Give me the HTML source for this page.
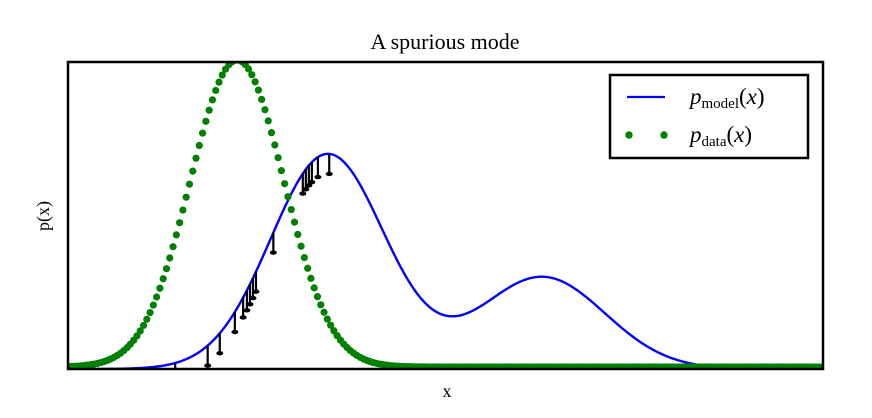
<!DOCTYPE html>
<html><head><meta charset="utf-8">
<style>
html,body{margin:0;padding:0;background:#fff;}
svg{display:block;}
text{font-family:"Liberation Serif",serif;}
</style></head>
<body>
<svg id="chartsvg" width="872" height="418" viewBox="0 0 872 418" xmlns="http://www.w3.org/2000/svg">
  <defs><clipPath id="plotclip"><rect x="68" y="62" width="755" height="307"/></clipPath></defs>
  <text x="445" y="49" font-size="22" text-anchor="middle">A spurious mode</text>
  <text x="447" y="397" font-size="18" text-anchor="middle">x</text>
  <text x="49" y="216" font-size="18" text-anchor="middle" transform="rotate(-90 49 216)">p(x)</text>
  <g id="plotgroup" clip-path="url(#plotclip)"></g>
  <rect x="68" y="62" width="755" height="307" fill="none" stroke="#000" stroke-width="2.5"/>
  <g>
    <rect x="610" y="75" width="198" height="83" fill="#fff" stroke="#000" stroke-width="2.5"/>
    <g>
      <line x1="627" y1="97" x2="665" y2="97" stroke="#0000ff" stroke-width="2.2"/>
      <text x="690" y="104" font-size="23" font-style="italic">p<tspan font-style="normal" font-size="15" dy="4">model</tspan><tspan font-style="normal" dy="-4">(</tspan>x<tspan font-style="normal">)</tspan></text>
    </g>
    <g>
      <circle cx="629" cy="135" r="3.7" fill="#008000"/>
      <circle cx="664" cy="135" r="3.7" fill="#008000"/>
      <text x="690" y="142" font-size="23" font-style="italic">p<tspan font-style="normal" font-size="15" dy="4">data</tspan><tspan font-style="normal" dy="-4">(</tspan>x<tspan font-style="normal">)</tspan></text>
    </g>
  </g>
</svg>
<script>
var dataMeans = [2.24];
var dataStds = [0.62];
var dataAmps = [1.0];
var modelMeans = [3.44, 6.28];
var modelStds = [0.755, 0.83];
var modelAmps = [0.70, 0.30];
var sampleXs = [1.42, 1.85, 2.01, 2.21, 2.32, 2.37, 2.41, 2.45, 2.49, 2.72, 3.11, 3.15, 3.19, 3.23, 3.31, 3.46];
var xDomain = [0, 10];
var yDomain = [0, 1];

(function(){
  var NS = "http://www.w3.org/2000/svg";
  var X0 = 68, X1 = 823, Y0 = 369, Y1 = 62;
  function sx(v){ return X0 + (v - xDomain[0]) / (xDomain[1] - xDomain[0]) * (X1 - X0); }
  function sy(v){ return Y0 - (v - yDomain[0]) / (yDomain[1] - yDomain[0]) * (Y0 - Y1); }
  function mix(x, m, s, a){ var t = 0; for (var i = 0; i < m.length; i++) { t += a[i] * Math.exp(-((x - m[i]) * (x - m[i])) / (2 * s[i] * s[i])); } return t; }
  var grp = document.getElementById('plotgroup');

  var pd = '';
  for (var i = 0; i <= 500; i++) {
    var x = xDomain[0] + (xDomain[1] - xDomain[0]) * i / 500;
    pd += (i ? 'L' : 'M') + sx(x).toFixed(2) + ' ' + sy(mix(x, modelMeans, modelStds, modelAmps)).toFixed(2);
  }
  var pth = document.createElementNS(NS, 'path');
  pth.setAttribute('d', pd);
  pth.setAttribute('fill', 'none');
  pth.setAttribute('stroke', '#0000ff');
  pth.setAttribute('stroke-width', '2.4');
  
  
  grp.appendChild(pth);

  var nDots = 230;
  for (var j = 0; j <= nDots; j++) {
    var xx = xDomain[0] + (xDomain[1] - xDomain[0]) * j / nDots;
    var c = document.createElementNS(NS, 'circle');
    c.setAttribute('cx', sx(xx).toFixed(2));
    c.setAttribute('cy', (sy(mix(xx, dataMeans, dataStds, dataAmps)) - 2).toFixed(2));
    c.setAttribute('r', '3.6');
    c.setAttribute('fill', '#008000');
    
    
    grp.appendChild(c);
  }

  for (var k = 0; k < sampleXs.length; k++) {
    var sxv = sampleXs[k];
    var px = sx(sxv);
    var y1 = sy(mix(sxv, modelMeans, modelStds, modelAmps));
    var y2 = Math.min(y1 + 20, Y0);
    var g = document.createElementNS(NS, 'g');
    
    
    var l = document.createElementNS(NS, 'line');
    l.setAttribute('x1', px); l.setAttribute('x2', px);
    l.setAttribute('y1', y1); l.setAttribute('y2', y2);
    l.setAttribute('stroke', '#000'); l.setAttribute('stroke-width', '2.2');
    g.appendChild(l);
    if (y2 < Y0) {
      var h = document.createElementNS(NS, 'ellipse');
      h.setAttribute('cx', px); h.setAttribute('cy', y2);
      h.setAttribute('rx', '3.5'); h.setAttribute('ry', '2.2');
      h.setAttribute('fill', '#000');
      g.appendChild(h);
    }
    grp.appendChild(g);
  }
})();
</script>
</body></html>
